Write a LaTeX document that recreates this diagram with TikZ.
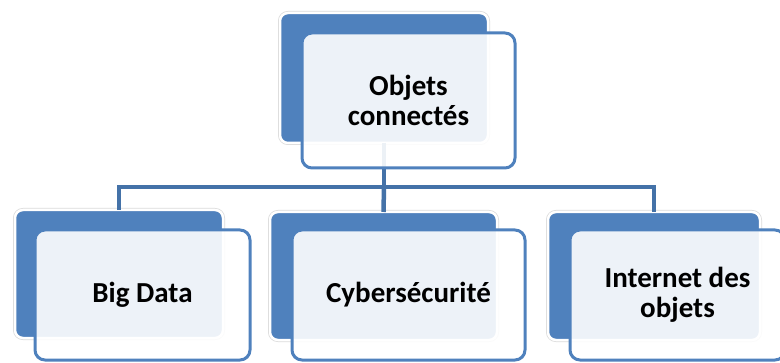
\documentclass[tikz,border=0pt]{standalone}
\usepackage{fontspec}
\setmainfont{Carlito}
\usepackage{tikz}
\usetikzlibrary{positioning,calc}
\definecolor{boxblue}{HTML}{4F81BD}
\definecolor{linkblue}{HTML}{4472A8}
\definecolor{rimgrey}{HTML}{DADADA}
\tikzset{
  backbox/.style={
    rectangle, rounded corners=8pt, fill=boxblue, draw=white,
    line width=2.5pt, preaction={draw=rimgrey, line width=4pt},
    minimum width=#1, minimum height=128pt,
    inner sep=0pt, outer sep=0pt
  },
  backbox/.default=208pt,
  frontbox/.style={
    rectangle, rounded corners=10pt, draw=boxblue, line width=3pt,
    fill=white, fill opacity=0.9, text opacity=1,
    minimum width=#1, minimum height=130pt,
    font=\fontsize{29}{30}\selectfont\bfseries, align=center,
    inner sep=0pt, outer sep=0pt
  },
  frontbox/.default=215pt,
  linkline/.style={draw=linkblue, line width=4.5pt},
}
\begin{document}
\begin{tikzpicture}[x=1pt, y=1pt]
  \useasboundingbox (0,0) rectangle (780,362);
  \node[backbox, minimum height=130pt] (topback) at (384,284) {};
  \node[backbox] (bdback) at (119,88) {};
  \node[backbox=227pt] (cyback) at (383.5,86) {};
  \node[backbox=212pt] (ioback) at (654,86) {};
  \coordinate (hub) at (384,175);
  \draw[linkline] (topback.south) -- (hub);
  \draw[linkline] (hub) -| (bdback.north);
  \draw[linkline] (hub) -- (cyback.north);
  \draw[linkline] (hub) -| (ioback.north);
  \node[frontbox=213pt, minimum height=135pt,
    below right=20pt and 22pt of topback.north west] (top) {Objets\\connectés};
  \node[frontbox, below right=20pt and 20pt of bdback.north west] (bd) {Big Data};
  \node[frontbox=233pt, below right=18pt and 22pt of cyback.north west] (cy) {Cybersécurité};
  \node[frontbox, below right=18pt and 22pt of ioback.north west] (io) {Internet des\\objets};
\end{tikzpicture}
\end{document}
